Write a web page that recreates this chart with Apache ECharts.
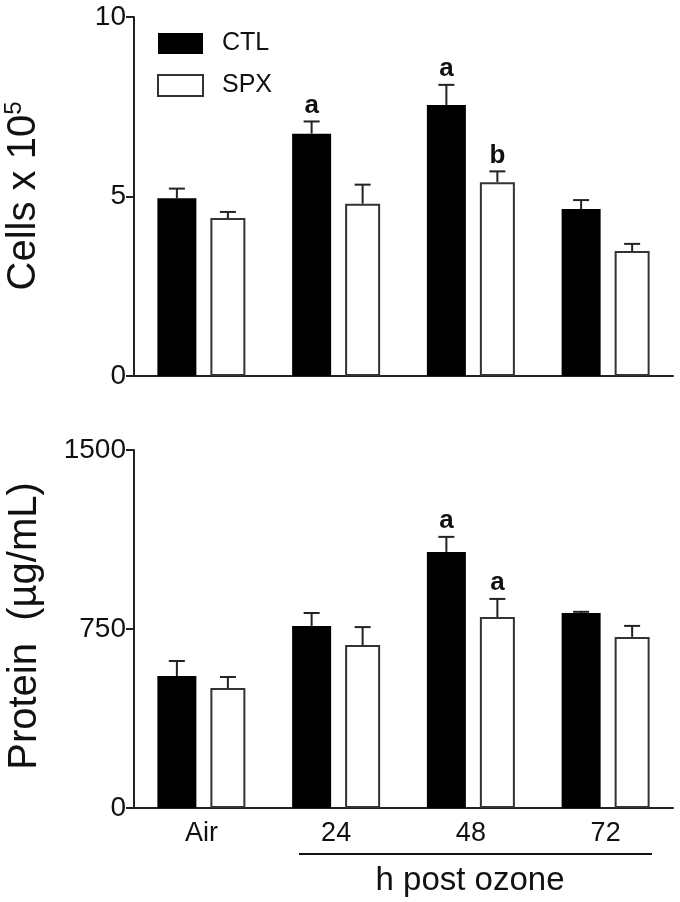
<!DOCTYPE html>
<html>
<head>
<meta charset="utf-8">
<script src="https://cdn.jsdelivr.net/npm/echarts@6/dist/echarts.min.js"></script>
<style>
  html, body { margin: 0; padding: 0; background: #fff; }
  #chart { width: 680px; height: 902px; }
</style>
</head>
<body>
<div id="chart"></div>
<script>
// 数据
const categories = ['Air', '24', '48', '72']
const seriesNames = ['CTL', 'SPX']

const cellsCTL = [4.95, 6.75, 7.55, 4.65]
const cellsCTLErr = [0.27, 0.34, 0.56, 0.25]
const cellsSPX = [4.40, 4.80, 5.40, 3.48]
const cellsSPXErr = [0.17, 0.53, 0.30, 0.20]
const cellsCTLMark = ['', 'a', 'a', '']
const cellsSPXMark = ['', '', 'b', '']

const proteinCTL = [553, 763, 1073, 817]
const proteinCTLErr = [63, 54, 63, 5]
const proteinSPX = [503, 683, 800, 717]
const proteinSPXErr = [46, 75, 76, 46]
const proteinCTLMark = ['', '', 'a', '']
const proteinSPXMark = ['', '', 'a', '']

const cellsTicks = [0, 5, 10]
const proteinTicks = [0, 750, 1500]

const FONT = '"Liberation Sans", Arial, sans-serif'
const INK = '#111'

// 柱宽与间距（像素）
const BAR_W = [39, 35]
const BAR_GAP = 14
const groupW = BAR_W[0] + BAR_GAP + BAR_W[1]
const barOffset = [-groupW / 2 + BAR_W[0] / 2, groupW / 2 - BAR_W[1] / 2]

function errData (ctl, ctlErr, spx, spxErr) {
  let out = []
  ctl.forEach((v, i) => out.push([i, v, ctlErr[i], 0]))
  spx.forEach((v, i) => out.push([i, v, spxErr[i], 1]))
  return out
}

// 误差线 + 显著性字母
function errRender (marks) {
  return function (params, api) {
    const i = api.value(0)
    const s = api.value(3)
    const base = api.coord([i, api.value(1)])
    const top = api.coord([i, api.value(1) + api.value(2)])
    const x = base[0] + barOffset[s]
    const lineStyle = { stroke: '#222', lineWidth: 2 }
    let children = [
      { type: 'line', shape: { x1: x, y1: base[1], x2: x, y2: top[1] }, style: lineStyle },
      { type: 'line', shape: { x1: x - 8, y1: top[1], x2: x + 8, y2: top[1] }, style: lineStyle }
    ]
    const m = marks[params.dataIndex]
    if (m) {
      children.push({
        type: 'text',
        x: x,
        y: top[1] - 3,
        style: {
          text: m,
          font: 'bold 26px ' + FONT,
          fill: INK,
          align: 'center',
          verticalAlign: 'bottom'
        }
      })
    }
    return { type: 'group', children: children }
  }
}

function yAxisOpt (gridIndex, ticks) {
  return {
    type: 'value',
    gridIndex: gridIndex,
    min: ticks[0],
    max: ticks[ticks.length - 1],
    interval: ticks[1] - ticks[0],
    axisLine: { show: true, lineStyle: { color: '#222', width: 2 } },
    axisTick: { show: true, length: 8, lineStyle: { color: '#222', width: 2 } },
    axisLabel: {
      color: INK,
      fontSize: 28,
      fontFamily: FONT,
      margin: 8,
      formatter: v => String(v)
    },
    splitLine: { show: false }
  }
}

function xAxisOpt (gridIndex, showLabel) {
  return {
    type: 'category',
    gridIndex: gridIndex,
    data: categories,
    axisLine: { show: true, lineStyle: { color: '#222', width: 2 } },
    axisTick: { show: false },
    axisLabel: { show: showLabel, color: INK, fontSize: 27, fontFamily: FONT, margin: 12 }
  }
}

function barSeries (name, idx, axisIndex, values) {
  const filled = idx === 0
  return {
    name: name,
    type: 'bar',
    xAxisIndex: axisIndex,
    yAxisIndex: axisIndex,
    data: values,
    barWidth: BAR_W[idx],
    barGap: (BAR_GAP / BAR_W[0] * 100) + '%',
    itemStyle: filled
      ? { color: '#000', borderColor: '#000', borderWidth: 0 }
      : { color: '#fff', borderColor: '#333', borderWidth: 2 }
  }
}

const allCellsMarks = cellsCTLMark.concat(cellsSPXMark)
const allProteinMarks = proteinCTLMark.concat(proteinSPXMark)

const echart = echarts.init(document.getElementById('chart'))
const option = {
  animation: false,
  backgroundColor: '#fff',
  textStyle: { fontFamily: FONT },
  legend: {
    data: seriesNames,
    orient: 'vertical',
    left: 157,
    top: 31,
    padding: 0,
    itemWidth: 45,
    itemHeight: 21,
    itemGap: 17,
    icon: 'rect',
    textStyle: { fontSize: 25, color: INK, fontFamily: FONT, padding: [0, 0, 0, 14] }
  },
  grid: [
    { left: 134, right: 7, top: 17, bottom: 902 - 376 },
    { left: 134, right: 7, top: 450, bottom: 902 - 808 }
  ],
  xAxis: [xAxisOpt(0, false), xAxisOpt(1, true)],
  yAxis: [yAxisOpt(0, cellsTicks), yAxisOpt(1, proteinTicks)],
  series: [
    barSeries('CTL', 0, 0, cellsCTL),
    barSeries('SPX', 1, 0, cellsSPX),
    barSeries('CTL', 0, 1, proteinCTL),
    barSeries('SPX', 1, 1, proteinSPX),
    {
      name: 'cellsErr',
      type: 'custom',
      xAxisIndex: 0,
      yAxisIndex: 0,
      data: errData(cellsCTL, cellsCTLErr, cellsSPX, cellsSPXErr),
      encode: { x: 0, y: 1 },
      renderItem: errRender(allCellsMarks),
      z: 3
    },
    {
      name: 'proteinErr',
      type: 'custom',
      xAxisIndex: 1,
      yAxisIndex: 1,
      data: errData(proteinCTL, proteinCTLErr, proteinSPX, proteinSPXErr),
      encode: { x: 0, y: 1 },
      renderItem: errRender(allProteinMarks),
      z: 3
    }
  ],
  graphic: [
    {
      type: 'text',
      x: 24,
      y: 196,
      rotation: Math.PI / 2,
      style: {
        text: '{n|Cells x 10}{s|5}',
        align: 'center',
        verticalAlign: 'middle',
        fill: INK,
        rich: {
          n: { fontSize: 40, fontFamily: FONT, fill: INK, lineHeight: 44 },
          s: { fontSize: 24, fontFamily: FONT, fill: INK, lineHeight: 44, verticalAlign: 'top' }
        }
      }
    },
    {
      type: 'text',
      x: 25,
      y: 626,
      rotation: Math.PI / 2,
      style: {
        text: 'Protein  (µg/mL)',
        font: '40px ' + FONT,
        align: 'center',
        verticalAlign: 'middle',
        fill: INK
      }
    },
    {
      type: 'line',
      shape: { x1: 299, y1: 854, x2: 652, y2: 854 },
      style: { stroke: '#111', lineWidth: 2 }
    },
    {
      type: 'text',
      x: 470,
      y: 881,
      style: {
        text: 'h post ozone',
        font: '33px ' + FONT,
        align: 'center',
        verticalAlign: 'middle',
        fill: INK
      }
    }
  ]
}
echart.setOption(option)
window.addEventListener('resize', () => {
  echart.resize()
})
</script>
</body>
</html>
